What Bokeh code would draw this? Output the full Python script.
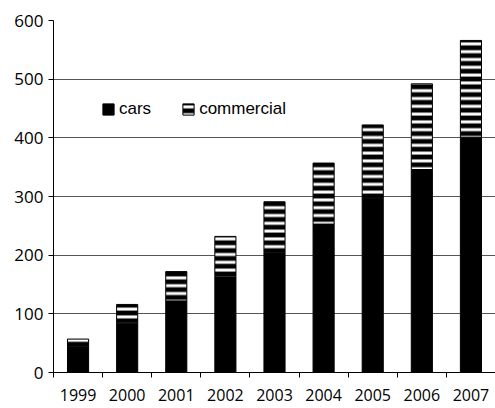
import numpy as np
from bokeh.plotting import figure
from bokeh.models import Range1d, FixedTicker, Legend, LegendItem, ColumnDataSource
from bokeh.embed import file_html
from bokeh.resources import INLINE

years = ["1999", "2000", "2001", "2002", "2003", "2004", "2005", "2006", "2007"]
cars = [44, 84, 122, 163, 204, 253, 297, 346, 401]
commercial = [13, 32, 50, 69, 87, 104, 125, 146, 165]
y_ticks = [0, 100, 200, 300, 400, 500, 600]

x = np.arange(len(years)) + 0.5
cars_a = np.array(cars, dtype=float)
comm_a = np.array(commercial, dtype=float)

src = ColumnDataSource(dict(x=x, cars=cars_a, top=cars_a + comm_a))

p = figure(width=495, height=408, output_backend="svg", toolbar_location=None,
           x_range=Range1d(0, len(years)), y_range=Range1d(0, 600),
           min_border_left=53, min_border_right=0, min_border_top=20, min_border_bottom=36)
p.outline_line_color = None
p.background_fill_color = "white"
p.border_fill_color = "white"

r_cars = p.vbar(x="x", bottom=0, top="cars", width=0.43, source=src,
                fill_color="black", line_color="black", line_width=1)
r_comm = p.vbar(x="x", bottom="cars", top="top", width=0.43, source=src,
                fill_color="black", line_color="black", line_width=1,
                hatch_pattern="-", hatch_color="white", hatch_scale=7.8, hatch_weight=3)

# x axis
p.xaxis.ticker = FixedTicker(ticks=list(x), minor_ticks=list(range(len(years) + 1)))
p.xaxis.major_label_overrides = {float(v): lab for v, lab in zip(x, years)}
p.xaxis.major_tick_out = 0
p.xaxis.major_tick_in = 0
p.xaxis.minor_tick_out = 5
p.xaxis.minor_tick_in = 0
p.xaxis.minor_tick_line_color = "black"
p.xaxis.axis_line_color = "black"
p.xaxis.major_label_standoff = 11
p.xaxis.major_label_text_font = "Open Sans"
p.xaxis.major_label_text_font_size = "16px"
p.xaxis.major_label_text_color = "black"

# y axis
p.yaxis.ticker = FixedTicker(ticks=y_ticks)
p.yaxis.major_tick_out = 5
p.yaxis.major_tick_in = 0
p.yaxis.minor_tick_line_color = None
p.yaxis.axis_line_color = "black"
p.yaxis.major_tick_line_color = "black"
p.yaxis.major_label_standoff = 5
p.yaxis.major_label_text_font = "Open Sans"
p.yaxis.major_label_text_font_size = "17px"
p.yaxis.major_label_text_color = "black"

p.xgrid.grid_line_color = None
p.ygrid.ticker = FixedTicker(ticks=y_ticks[1:])
p.ygrid.grid_line_color = "#555555"
p.ygrid.grid_line_width = 1

legend = Legend(items=[LegendItem(label="cars", renderers=[r_cars]),
                       LegendItem(label="commercial", renderers=[r_comm])],
                orientation="horizontal", location=(48, 253),
                glyph_width=14, glyph_height=14, label_standoff=4, spacing=30,
                padding=0, margin=0, border_line_color=None,
                background_fill_alpha=0,
                label_text_font="Liberation Sans", label_text_font_size="17px",
                label_text_color="black", label_height=17)
p.add_layout(legend, "center")

open("out.html", "w").write(file_html(p, INLINE))
